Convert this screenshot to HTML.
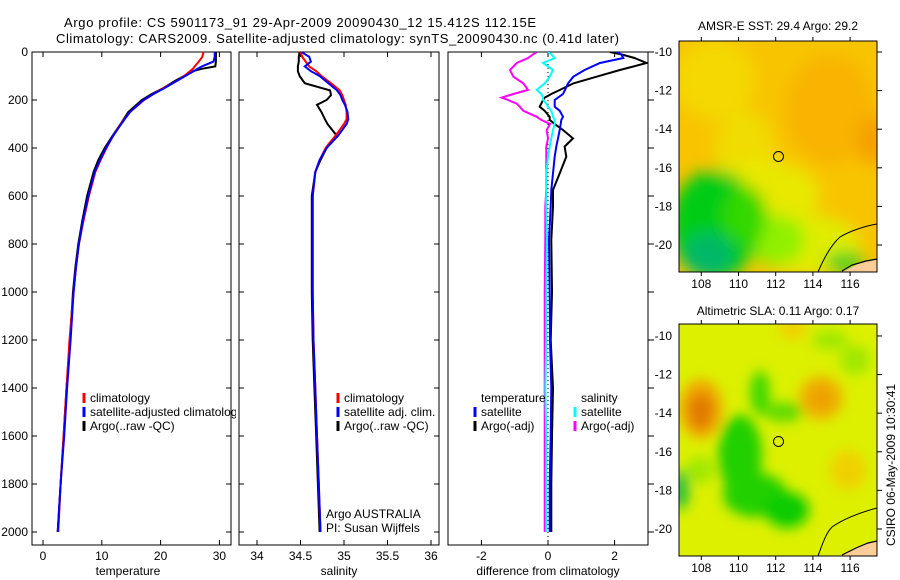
<!DOCTYPE html>
<html><head><meta charset="utf-8"><style>
html,body{margin:0;padding:0;background:#fff;}
svg{display:block;font-family:"Liberation Sans",Arial,sans-serif;}
</style></head><body>
<svg id="chart" width="900" height="580" viewBox="0 0 900 580" xmlns="http://www.w3.org/2000/svg">
<defs>
<clipPath id="c1"><rect x="32" y="52" width="199" height="493"/></clipPath>
<clipPath id="c2"><rect x="239" y="52" width="200" height="493"/></clipPath>
<clipPath id="c3"><rect x="448" y="52" width="200" height="493"/></clipPath>
<clipPath id="m1"><rect x="679" y="41" width="198" height="231"/></clipPath>
<clipPath id="m2"><rect x="679" y="324" width="198" height="232"/></clipPath>
<clipPath id="leg1"><rect x="0" y="380" width="236" height="60"/></clipPath>
<filter id="blur" x="-20%" y="-20%" width="140%" height="140%"><feGaussianBlur stdDeviation="8"/></filter>
<filter id="blur2" x="-20%" y="-20%" width="140%" height="140%"><feGaussianBlur stdDeviation="6"/></filter>
</defs>
<text x="64" y="27" font-size="13" textLength="472">Argo profile: CS 5901173_91 29-Apr-2009 20090430_12 15.412S 112.15E</text>
<text x="56" y="43" font-size="13" textLength="563">Climatology: CARS2009. Satellite-adjusted climatology: synTS_20090430.nc (0.41d later)</text>

<!-- Map 1 SST -->
<g>
<g clip-path="url(#m1)">
<rect x="679" y="41" width="198" height="231" fill="#f8c400"/>
<g filter="url(#blur)">
<ellipse cx="715" cy="80" rx="40" ry="40" fill="#f4d800"/>
<ellipse cx="745" cy="150" rx="30" ry="40" fill="#f0dc00"/>
<ellipse cx="760" cy="195" rx="60" ry="35" fill="#e8e800"/>
<ellipse cx="830" cy="110" rx="45" ry="55" fill="#f8b400"/>
<ellipse cx="872" cy="140" rx="15" ry="25" fill="#f4a000"/>
<ellipse cx="810" cy="245" rx="50" ry="30" fill="#e0ec00"/>
<ellipse cx="775" cy="240" rx="30" ry="25" fill="#90f000"/>
<ellipse cx="715" cy="225" rx="45" ry="55" fill="#00cc18"/>
<ellipse cx="745" cy="215" rx="22" ry="28" fill="#30d800"/>
<ellipse cx="708" cy="255" rx="25" ry="22" fill="#00b868"/>
<ellipse cx="845" cy="262" rx="20" ry="10" fill="#30d020"/>
</g>
<path d="M842 272 L858 264 L868 261 L877 259 L877 272 Z" fill="#fccc99"/>
<path d="M818 272 C824 258 832 244 840 237 C850 231 865 226 877 224" fill="none" stroke="#000" stroke-width="1"/>
<path d="M842 271 L852 265 L866 261 L877 259" fill="none" stroke="#000" stroke-width="1.2"/>
<circle cx="778.5" cy="156.5" r="5" fill="none" stroke="#000" stroke-width="1"/>
</g>
<rect x="679" y="41" width="198" height="231" fill="none" stroke="#000" stroke-width="1"/>
</g>
<text x="778" y="30" font-size="12" text-anchor="middle">AMSR-E SST: 29.4 Argo: 29.2</text>

<!-- Map 2 SLA -->
<g>
<g clip-path="url(#m2)">
<rect x="679" y="324" width="198" height="232" fill="#dcf000"/>
<g filter="url(#blur2)">
<ellipse cx="701" cy="409" rx="22" ry="30" fill="#f0a800"/>
<ellipse cx="701" cy="411" rx="12" ry="18" fill="#e07800"/>
<ellipse cx="821" cy="398" rx="22" ry="22" fill="#f0b000"/>
<ellipse cx="821" cy="398" rx="10" ry="10" fill="#ec9c00"/>
<ellipse cx="793" cy="329" rx="15" ry="10" fill="#f0d000"/>
<ellipse cx="740" cy="455" rx="22" ry="40" fill="#20d000"/>
<ellipse cx="755" cy="495" rx="32" ry="22" fill="#20d000"/>
<ellipse cx="787" cy="510" rx="22" ry="18" fill="#10cc00"/>
<ellipse cx="760" cy="393" rx="10" ry="22" fill="#40d800"/>
<ellipse cx="783" cy="412" rx="20" ry="10" fill="#60dc00"/>
<ellipse cx="681" cy="490" rx="8" ry="20" fill="#20c040"/>
<ellipse cx="700" cy="470" rx="14" ry="14" fill="#a0e800"/>
<ellipse cx="830" cy="340" rx="18" ry="10" fill="#a0e800"/>
<ellipse cx="855" cy="360" rx="15" ry="15" fill="#a0e800"/>
<ellipse cx="848" cy="470" rx="18" ry="20" fill="#f0d000"/>
</g>
<path d="M842 556 L856 548 L868 543 L877 541 L877 556 Z" fill="#fccc99"/>
<path d="M818 556 C822 545 826 533 832 527 C845 518 862 512 877 508" fill="none" stroke="#000" stroke-width="1"/>
<path d="M842 555 L856 548 L868 543 L877 541" fill="none" stroke="#000" stroke-width="1.2"/>
<circle cx="778.5" cy="441.5" r="5" fill="none" stroke="#000" stroke-width="1"/>
</g>
<rect x="679" y="324" width="198" height="232" fill="none" stroke="#000" stroke-width="1"/>
</g>
<text x="778" y="315" font-size="12" text-anchor="middle">Altimetric SLA: 0.11 Argo: 0.17</text>
<text transform="translate(895,465) rotate(-90)" font-size="12" text-anchor="middle">CSIRO 06-May-2009 10:30:41</text>

<g id="dyn"></g>
</svg>
<script>
// ---- Temperature panel data ----
const tDepth = [0,20,40,60,70,80,100,120,150,175,200,250,300,350,400,450,500,600,700,800,900,1000,1200,1400,1600,1800,2000];
const tArgo = [29.4,29.4,29.4,29.3,27,25.5,24,22.5,20.5,18.5,16.8,14.5,13.2,11.8,10.5,9.4,8.6,7.5,6.7,6.0,5.5,5.1,4.6,4.0,3.5,3.0,2.5];
const tClim = [27.3,27.1,26.5,25.8,25.5,25,24,22.8,20.5,18.8,17.2,14.8,13.2,11.9,10.8,9.8,8.9,7.8,6.9,6.1,5.6,5.2,4.5,4.0,3.5,3.0,2.6];
const tSat = [29.2,29.2,29.0,27,26.3,25.6,24.2,22.8,20.7,18.8,17.1,14.8,13.3,11.9,10.7,9.7,8.8,7.7,6.8,6.1,5.6,5.2,4.7,4.1,3.6,3.0,2.5];
// ---- Salinity panel data ----
const sDepth = [0,20,40,60,80,100,130,160,180,200,220,250,280,300,350,380,400,450,500,600,800,1000,1200,1400,1600,1800,2000];
const sArgo = [34.49,34.48,34.48,34.47,34.47,34.49,34.55,34.84,34.85,34.8,34.69,34.74,34.78,34.81,34.92,34.85,34.80,34.73,34.67,34.63,34.63,34.63,34.64,34.66,34.68,34.70,34.72];
const sClim = [34.50,34.52,34.56,34.6,34.68,34.74,34.85,34.95,34.98,35.0,35.02,35.03,35.03,35.0,34.9,34.83,34.79,34.72,34.67,34.64,34.64,34.64,34.65,34.67,34.69,34.71,34.73];
const sSat = [34.51,34.60,34.62,34.55,34.62,34.72,34.82,34.92,34.96,34.98,35.01,35.04,35.05,35.03,34.93,34.85,34.8,34.72,34.67,34.64,34.64,34.64,34.65,34.67,34.69,34.71,34.73];
// ---- Difference panel data ----
const dDepth = [0,10,25,46,75,103,131,158,175,190,200,215,228,245,270,283,300,325,360,394,436,506,575,644,783,1000,1200,1400,1600,1800,2000];
const dTArgo = [1.86,2.2,2.6,2.96,2.16,1.46,0.76,0.36,0.1,-0.1,-0.15,-0.2,-0.25,-0.1,0.05,0.05,0.2,0.45,0.75,0.5,0.55,0.35,0.15,0.15,0.1,0.12,0.08,0.15,0.12,0.1,0.1];
const dTSat = [2.06,2.2,2.26,1.56,1.1,0.76,0.6,0.51,0.45,0.3,0.2,0.2,0.2,0.35,0.45,0.4,0.38,0.35,0.3,0.25,0.2,0.15,0.1,0.08,0.03,0.05,0.06,0.1,0.08,0.05,0.05];
const dSSat = [0.0,0.1,0.2,-0.15,0.15,0.05,-0.1,-0.34,-0.2,-0.15,-0.15,-0.05,0.0,0.1,0.15,0.2,0.2,0.15,0.1,0.05,0.0,-0.05,-0.05,-0.05,-0.03,-0.05,-0.05,-0.08,-0.05,-0.05,-0.05];
const dSArgo = [-0.34,-0.45,-0.6,-0.94,-1.14,-1.04,-0.74,-0.6,-1.04,-1.39,-1.2,-0.94,-0.85,-0.74,-0.34,-0.2,0.06,-0.04,0.0,-0.05,-0.05,-0.05,-0.05,-0.08,-0.08,-0.1,-0.1,-0.1,-0.1,-0.1,-0.1];
// ---- Ticks ----
const depthTicks = [0,200,400,600,800,1000,1200,1400,1600,1800,2000];
const tTicks = [0,10,20,30];
const sTicks = [34,34.5,35,35.5,36];
const dTicks = [-2,0,2];
const mapLatTicks = [-10,-12,-14,-16,-18,-20];
const mapLonTicks = [108,110,112,114,116];

const NS='http://www.w3.org/2000/svg';
const root=document.getElementById('dyn');
function mk(tag,attrs,parent){const e=document.createElementNS(NS,tag);for(const k in attrs)e.setAttribute(k,attrs[k]);(parent||root).appendChild(e);return e;}
const yD = d => 52 + d*0.24;
const xT = v => 43 + v*5.88;
const xS = v => 257 + (v-34)*87;
const xDf = v => 548 + v*33.3;

function frame(x0,x1,name){
  const r=mk('rect',{x:x0,y:52,width:x1-x0,height:493,fill:'none',stroke:'#000','stroke-width':1});
  
  
}
function line(xs,ds,xf,color,clip,name){
  let p='';
  for(let i=0;i<xs.length;i++){p+=(i?'L':'M')+xf(xs[i]).toFixed(1)+' '+yD(ds[i]).toFixed(1);}
  const e=mk('path',{d:p,fill:'none',stroke:color,'stroke-width':2,'clip-path':'url(#'+clip+')'});
  
  
}
function xticks(ticks,xf,labels,name){
  ticks.forEach((t,i)=>{
    const x=xf(t);
    mk('line',{x1:x,y1:52,x2:x,y2:57,stroke:'#000'});
    mk('line',{x1:x,y1:545,x2:x,y2:540,stroke:'#000'});
    const tx=mk('text',{x:x,y:560,'font-size':12,'text-anchor':'middle'});
    tx.textContent=labels[i];
    
    
  });
}
function yticks(x0,x1){
  depthTicks.forEach(d=>{
    const y=yD(d);
    mk('line',{x1:x0,y1:y,x2:x0+5,y2:y,stroke:'#000'});
    mk('line',{x1:x1,y1:y,x2:x1-5,y2:y,stroke:'#000'});
  });
}
// Panel 1
frame(32,231,'temperature-panel-frame');
yticks(32,231);
depthTicks.forEach(d=>{
  const t=mk('text',{x:28,y:yD(d)+4,'font-size':12,'text-anchor':'end'});
  t.textContent=String(d);
  
  
});
xticks(tTicks,xT,tTicks.map(String),'temperature-tick-label');
line(tArgo,tDepth,xT,'#000','c1','temperature-argo-line');
line(tClim,tDepth,xT,'#f00','c1','temperature-climatology-line');
line(tSat,tDepth,xT,'#00f','c1','temperature-satellite-line');
// Panel 2
frame(239,439,'salinity-panel-frame');
yticks(239,439);
xticks(sTicks,xS,sTicks.map(String),'salinity-tick-label');
line(sArgo,sDepth,xS,'#000','c2','salinity-argo-line');
line(sClim,sDepth,xS,'#f00','c2','salinity-climatology-line');
line(sSat,sDepth,xS,'#00f','c2','salinity-satellite-line');
// Panel 3
frame(448,648,'difference-panel-frame');
depthTicks.forEach(d=>{const y=yD(d);mk('line',{x1:648,y1:y,x2:654,y2:y,stroke:'#000'});});
xticks(dTicks,xDf,dTicks.map(String),'difference-tick-label');
const zl=mk('line',{x1:xDf(0),y1:52,x2:xDf(0),y2:545,stroke:'#000','stroke-dasharray':'1 3'});


line(dTArgo,dDepth,xDf,'#000','c3','diff-temperature-argo-line');
line(dTSat,dDepth,xDf,'#00f','c3','diff-temperature-satellite-line');
line(dSArgo,dDepth,xDf,'#f0f','c3','diff-salinity-argo-line');
line(dSSat,dDepth,xDf,'#0ff','c3','diff-salinity-satellite-line');
// Map ticks
function mapTicks(top,bottom,latTop){
  mapLatTicks.forEach(l=>{
    const y=top+(latTop-l)*19.3;
    mk('line',{x1:877,y1:y,x2:882,y2:y,stroke:'#000'});
    const t=mk('text',{x:672,y:y+4,'font-size':12,'text-anchor':'end'});
    t.textContent=String(l);
    
    
  });
  mapLonTicks.forEach(l=>{
    const x=701.3+(l-108)*18.6;
    mk('line',{x1:x,y1:top,x2:x,y2:top-4,stroke:'#000'});
    mk('line',{x1:x,y1:bottom,x2:x,y2:bottom+4,stroke:'#000'});
    const t=mk('text',{x:x,y:bottom+16,'font-size':12,'text-anchor':'middle'});
    t.textContent=String(l);
    
    
  });
}
mapTicks(41,272,-9.43);
mapTicks(324,556,-9.38);
// Axis titles
[['temperature',128],['salinity',339],['difference from climatology',548]].forEach(a=>{
  const t=mk('text',{x:a[1],y:575,'font-size':12,'text-anchor':'middle'});
  t.textContent=a[0];
  
  
});
// Legends
function legendItem(x,y,color,label,name,clip){
  if(color){mk('line',{x1:x-6,y1:y-9,x2:x-6,y2:y+1,stroke:color,'stroke-width':3});}
  const attrs={x:x,y:y,'font-size':12};
  if(clip) attrs['clip-path']='url(#'+clip+')';
  const t=mk('text',attrs);
  t.textContent=label;
  
  
}
legendItem(90,402,'#f00','climatology','temperature-legend-entry');
legendItem(90,416,'#00f','satellite-adjusted climatology','temperature-legend-entry','leg1');
legendItem(90,430,'#000','Argo(..raw -QC)','temperature-legend-entry');
legendItem(344,402,'#f00','climatology','salinity-legend-entry');
legendItem(344,416,'#00f','satellite adj. clim.','salinity-legend-entry');
legendItem(344,430,'#000','Argo(..raw -QC)','salinity-legend-entry');
legendItem(326,518,null,'Argo AUSTRALIA','credit-label');
legendItem(326,532,null,'PI: Susan Wijffels','credit-label');
legendItem(481,402,null,'temperature','difference-legend-header');
legendItem(481,416,'#00f','satellite','difference-legend-entry');
legendItem(481,430,'#000','Argo(-adj)','difference-legend-entry');
legendItem(581,402,null,'salinity','difference-legend-header');
legendItem(581,416,'#0ff','satellite','difference-legend-entry');
legendItem(581,430,'#f0f','Argo(-adj)','difference-legend-entry');
</script>
</body></html>
